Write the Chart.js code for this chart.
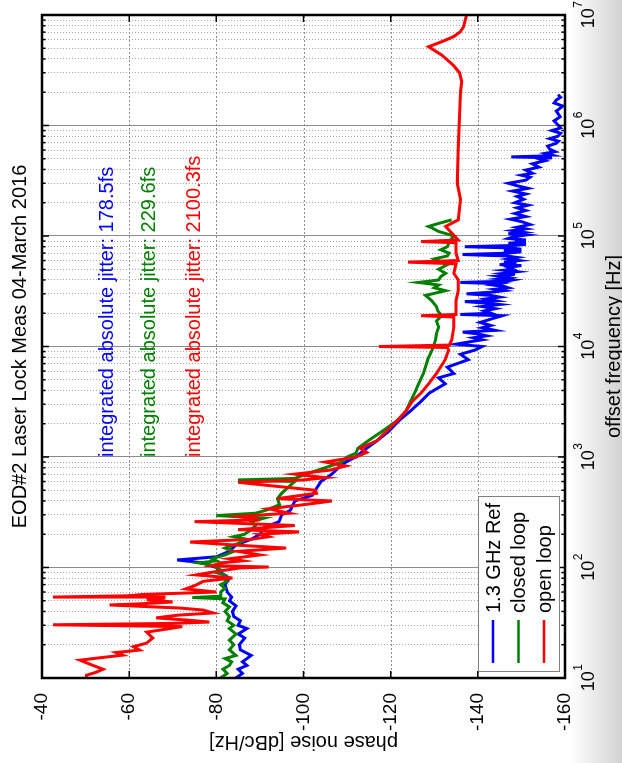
<!DOCTYPE html>
<html>
<head>
<meta charset="utf-8">
<style>
  html, body { margin: 0; padding: 0; width: 622px; height: 763px; overflow: hidden;
    background: linear-gradient(to right, #ffffff 0px, #ffffff 570px, #ececec 592px, #d2d2d2 622px); }
  #wrap { position: absolute; left: 0; top: 0; width: 763px; height: 640px;
    transform-origin: 0 0; transform: translate(0px, 763px) rotate(-90deg); }
</style>
</head>
<body>
<div id="wrap"><canvas id="noiseChart" width="763" height="640"></canvas></div>

<script src="https://cdn.jsdelivr.net/npm/chart.js"></script>
<script>
    const FONT = "'Liberation Sans', Arial, sans-serif";

    const chartTitle = "EOD#2 Laser Lock Meas 04-March 2016";
    const seriesNames = ["1.3 GHz Ref", "closed loop", "open loop"];
    const seriesColors = ["#0000ff", "#008000", "#ff0000"];
    const jitterLabels = [
        "integrated absolute jitter: 178.5fs",
        "integrated absolute jitter: 229.6fs",
        "integrated absolute jitter: 2100.3fs"
    ];
    const jitterLevels = [-55, -64.7, -75];
    const jitterStartFreq = 1000;
    const decadeExps = [1, 2, 3, 4, 5, 6, 7];
    const yTickValues = [-160, -140, -120, -100, -80, -60, -40];

    // 1.3 GHz reference
    const refFreq = [
        10, 11, 12, 13, 14, 16, 18, 20, 23, 25,
        28, 30, 33, 36, 40, 45, 50, 54, 60, 70,
        80, 90, 100, 110, 117, 125, 140, 160, 180, 200,
        230, 260, 300, 330, 400, 450, 520, 600, 700, 800,
        900, 1000, 1200, 1400, 1700, 2150, 2600, 3200, 3800, 4600,
        5200, 5700, 6500, 7600, 8500, 9300, 10000, 10500, 11000, 11500,
        12000, 12500, 13000, 13500, 14000, 14800, 15500, 16500, 17500, 18200,
        19000, 19500, 20000, 21000, 22000, 23000, 24000, 24500, 25500, 26000,
        27000, 28000, 29000, 30000, 31000, 32000, 33000, 34000, 35000, 36000,
        37000, 38000, 39000, 40000, 41000, 42000, 43500, 45000, 46000, 47500,
        49000, 50000, 52000, 54000, 55000, 57000, 58000, 60000, 62000, 64000,
        66000, 68000, 70000, 72000, 74000, 76000, 78000, 80000, 82000, 84000,
        86000, 88000, 90000, 92000, 95000, 98000, 102000, 105000, 108000, 112000,
        116000, 120000, 127000, 135000, 142000, 150000, 160000, 170000, 180000, 190000,
        200000, 215000, 228000, 240000, 255000, 270000, 285000, 300000, 320000, 340000,
        355000, 370000, 395000, 420000, 450000, 480000, 500000, 510000, 520000, 530000,
        540000, 560000, 580000, 610000, 650000, 690000, 720000, 760000, 800000, 850000,
        900000, 950000, 1e6, 1.1e6, 1.2e6, 1.35e6, 1.5e6, 1.6e6, 1.7e6, 1.8e6,
        1.9e6
    ];
    const refNoise = [
        -84.5, -86, -85, -87, -86, -88, -85.5, -85.3, -86.5, -85,
        -87, -85, -85.5, -84, -83.7, -84.5, -83, -83.5, -82.5, -82,
        -83, -81, -80, -77, -71, -80, -83, -84.5, -88, -90,
        -91, -94.4, -95, -97, -98, -102, -103, -104, -106.5, -108,
        -109.7, -112, -114.5, -116.8, -119.5, -122, -124.5, -127, -128.9, -132.5,
        -131, -134.5, -133, -137.8, -136, -139.4, -141, -135, -138, -141,
        -139, -142, -140, -136.5, -144, -141, -143, -140.5, -142.6, -144,
        -145.6, -136, -143, -141.5, -144, -141, -145, -143, -137, -144,
        -142, -145, -143, -137.4, -143, -146, -144, -147, -146, -143.5,
        -145, -136, -146.5, -148, -145, -147, -144.5, -148.5, -146, -149,
        -146, -148, -147, -150, -145, -148.5, -146, -149.5, -147, -149,
        -146.5, -136.5, -147, -150, -146, -150, -147.5, -137, -148, -151,
        -147, -151, -148.5, -151, -147, -148, -151, -147, -150.5, -148,
        -151, -149, -152, -150, -147.5, -151, -148.5, -151, -149, -151.5,
        -148.5, -150.5, -149, -151, -148, -151.5, -149, -147, -151, -152,
        -150, -152.5, -151, -154, -152.5, -155.4, -154, -157, -147.7, -155,
        -157, -155.5, -157.7, -156.5, -156, -158, -158.5, -156.5, -158.4, -159,
        -157, -159, -158.5, -157.5, -158.9, -158, -159.5, -157.5, -158, -159,
        -158.4
    ];

    // closed loop
    const closedFreq = [
        10, 11, 12, 13, 14, 15, 16, 18, 20, 22,
        25, 28, 30, 33, 36, 40, 44, 48, 52, 53.5,
        55, 60, 65, 70, 75, 80, 85, 90, 95, 100,
        105, 110, 115, 120, 130, 140, 150, 165, 180, 190,
        200, 220, 240, 260, 280, 295, 310, 330, 370, 420,
        470, 540, 600, 620, 640, 700, 800, 900, 1000, 1080,
        1200, 1400, 1700, 2150, 2600, 3200, 3800, 4600, 5700, 7600,
        9300, 11500, 13000, 15000, 17000, 19000, 21000, 23000, 26000, 29000,
        32000, 34000, 36000, 38000, 40000, 43000, 46000, 50000, 55000, 62000,
        66000, 70000, 75000, 80000, 90000, 100000, 110000, 118000, 122000, 130000,
        140000
    ];
    const closedNoise = [
        -81, -82.5, -81.5, -83, -83.5, -82, -84.5, -83, -84, -83,
        -84.5, -83, -84, -82.5, -83, -82, -83, -81.5, -82, -74.5,
        -81, -81, -82, -81, -82.5, -81.5, -82, -80, -81, -80,
        -79, -76, -80, -79, -82, -84, -82, -85, -87, -84,
        -86.5, -88, -89, -88, -91, -80, -89, -91.4, -94.5, -94,
        -95, -96.7, -98, -85, -98, -100.6, -105, -108.8, -110, -112,
        -112.5, -114.8, -118, -121.6, -123.5, -124.6, -125.5, -126.4, -127.5, -128.5,
        -129.5, -130.3, -130.5, -131, -130.5, -131.7, -130.8, -130.5, -129.4, -128,
        -132.6, -130, -131, -126.4, -131, -131.5, -132.6, -131, -133, -130,
        -133, -133.4, -131.5, -133, -133.5, -134.5, -131, -129.5, -128.7, -131,
        -134
    ];

    // open loop
    const openFreq = [
        10, 10.6, 11.3, 12, 13, 14.5, 15.2, 16.1, 17, 17.9,
        19.2, 20.7, 23, 26, 27.5, 29.2, 30.3, 31.2, 32.1, 33.5,
        35, 37, 38.8, 41.2, 43, 45.8, 47, 48.8, 51, 53,
        54, 55.5, 57, 60, 64, 69.5, 75, 80.4, 85.7, 92,
        99, 101, 104, 110, 115, 120, 130, 140, 150, 160,
        170, 180, 190, 200, 210, 220, 240, 260, 270, 290,
        310, 340, 370, 400, 420, 470, 500, 540, 590, 620,
        650, 700, 760, 830, 900, 1000, 1100, 1200, 1400, 1700,
        2150, 2600, 3200, 3800, 4600, 5700, 7600, 9300, 9800, 10000,
        10300, 11500, 15000, 18500, 19000, 19500, 26000, 32000, 40000, 46000,
        56000, 58000, 60000, 70000, 87000, 89000, 92000, 122000, 140000, 215000,
        300000, 630000, 1.2e6, 2.0e6, 2.5e6, 3.0e6, 3.5e6, 4.35e6, 5.16e6, 5.73e6,
        6.36e6, 7.0e6, 7.75e6, 1e7
    ];
    const openNoise = [
        -50.2, -50.2, -52.5, -54, -51.7, -48.7, -53, -58.5, -57, -62.4,
        -61, -64, -65.4, -64, -68, -72.2, -42.5, -70, -78.4, -73,
        -66.2, -71, -79.2, -77, -71.5, -55.5, -63, -70, -64, -68,
        -42.5, -60, -63, -80, -73, -75.4, -77, -83.7, -75.4, -80,
        -85.3, -92, -79, -81, -86, -83, -90, -85, -96, -84,
        -74, -88, -92, -90, -99, -85, -98, -75, -90, -85,
        -96.7, -92, -100, -106.5, -94, -103, -102.8, -94.4, -85, -100,
        -105, -98, -106, -109.7, -105, -112, -114.5, -113, -116.8, -119,
        -121.6, -123.5, -125, -127, -128.7, -130.5, -132.5, -133.3, -133, -117.3,
        -133.5, -134, -134.5, -134.5, -127, -135, -135, -135.5, -135.5, -134.5,
        -135, -124, -135.5, -135, -135, -127, -135.5, -132.6, -135.5, -136,
        -135.3, -135.5, -135.8, -136, -136.3, -135.8, -134.4, -131.7, -128.7, -131.7,
        -134.4, -135.9, -136.7, -137.4
    ];

    // frequency grid: 1..9 x each decade
    const xGridTicks = [];
    decadeExps.forEach(e => {
        if (e === 7) { xGridTicks.push(1e7); return; }
        for (let m = 1; m <= 9; m++) xGridTicks.push(m * Math.pow(10, e));
    });

    function isDecade(v) {
        const l = Math.log10(v);
        return Math.abs(l - Math.round(l)) < 1e-6;
    }

    function toPoints(freqs, vals) {
        return freqs.map((f, i) => ({ x: f, y: vals[i] }));
    }

    const matlabFrame = {
        id: "matlabFrame",
        beforeDatasetsDraw(chart) {
            // dotted level grid (phase noise)
            const ctx = chart.ctx;
            const area = chart.chartArea;
            const ys = chart.scales.y;
            ctx.save();
            ctx.strokeStyle = "#8f8f8f";
            ctx.lineWidth = 1;
            ctx.setLineDash([2, 2]);
            ctx.beginPath();
            yTickValues.forEach(v => {
                const y = Math.round(ys.getPixelForValue(v)) + 0.5;
                ctx.moveTo(area.left, y);
                ctx.lineTo(area.right, y);
            });
            ctx.stroke();
            ctx.restore();
        },
        afterDraw(chart) {
            const ctx = chart.ctx;
            const area = chart.chartArea;
            const xs = chart.scales.x;
            const ys = chart.scales.y;
            ctx.save();

            // tick marks inside the box
            ctx.strokeStyle = "#000";
            ctx.lineWidth = 1.5;
            ctx.beginPath();
            xGridTicks.forEach(v => {
                const x = xs.getPixelForValue(v);
                const len = isDecade(v) ? 7 : 3.5;
                ctx.moveTo(x, area.bottom); ctx.lineTo(x, area.bottom - len);
                ctx.moveTo(x, area.top); ctx.lineTo(x, area.top + len);
            });
            yTickValues.forEach(v => {
                const y = ys.getPixelForValue(v);
                ctx.moveTo(area.left, y); ctx.lineTo(area.left + 7, y);
                ctx.moveTo(area.right, y); ctx.lineTo(area.right - 7, y);
            });
            ctx.stroke();

            // box
            ctx.lineWidth = 2.5;
            ctx.strokeRect(area.left, area.top, area.right - area.left, area.bottom - area.top);

            // decade labels 10^n
            ctx.fillStyle = "#000";
            ctx.textBaseline = "alphabetic";
            ctx.textAlign = "left";
            decadeExps.forEach(e => {
                const x = xs.getPixelForValue(Math.pow(10, e));
                ctx.font = "18px " + FONT;
                const w1 = ctx.measureText("10").width;
                ctx.font = "12px " + FONT;
                const w2 = ctx.measureText(String(e)).width;
                const x0 = x - (w1 + w2) / 2;
                ctx.font = "18px " + FONT;
                ctx.fillText("10", x0, area.bottom + 29);
                ctx.font = "12px " + FONT;
                ctx.fillText(String(e), x0 + w1 + 0.5, area.bottom + 17);
            });

            // jitter annotations
            ctx.font = "20px " + FONT;
            ctx.textBaseline = "middle";
            jitterLabels.forEach((t, i) => {
                ctx.fillStyle = seriesColors[i];
                ctx.fillText(t, xs.getPixelForValue(jitterStartFreq), ys.getPixelForValue(jitterLevels[i]));
            });

            // legend box, lower left
            const bw = 175, bh = 81;
            const bx = area.left + 6, by = area.bottom - 6 - bh;
            ctx.fillStyle = "#fff";
            ctx.fillRect(bx, by, bw, bh);
            ctx.strokeStyle = "#808080";
            ctx.lineWidth = 1;
            ctx.strokeRect(bx + 0.5, by + 0.5, bw, bh);
            seriesNames.forEach((name, i) => {
                const ry = by + 15 + i * 25.5;
                ctx.strokeStyle = seriesColors[i];
                ctx.lineWidth = 2.5;
                ctx.beginPath();
                ctx.moveTo(bx + 9, ry); ctx.lineTo(bx + 52, ry);
                ctx.stroke();
                ctx.fillStyle = "#000";
                ctx.font = "20px " + FONT;
                ctx.textBaseline = "middle";
                ctx.fillText(name, bx + 59, ry + 1);
            });
            ctx.restore();
        }
    };

    const canvas = document.getElementById("noiseChart");
    new Chart(canvas.getContext("2d"), {
        type: "line",
        data: {
            datasets: [
                { label: seriesNames[0], data: toPoints(refFreq, refNoise), borderColor: seriesColors[0], order: 3 },
                { label: seriesNames[1], data: toPoints(closedFreq, closedNoise), borderColor: seriesColors[1], order: 2 },
                { label: seriesNames[2], data: toPoints(openFreq, openNoise), borderColor: seriesColors[2], order: 1 }
            ]
        },
        options: {
            responsive: false,
            animation: false,
            devicePixelRatio: 1,
            elements: {
                point: { radius: 0 },
                line: { borderWidth: 3, tension: 0, fill: false }
            },
            layout: { padding: { left: 0, right: 15, top: 0, bottom: 0 } },
            plugins: {
                legend: { display: false },
                tooltip: { enabled: false },
                title: {
                    display: true,
                    text: chartTitle,
                    color: "#000",
                    fullSize: false,
                    font: { family: FONT, size: 20, weight: "normal" },
                    padding: { top: 8, bottom: 10 }
                }
            },
            scales: {
                x: {
                    type: "logarithmic",
                    min: 10,
                    max: 1e7,
                    afterBuildTicks: s => { s.ticks = xGridTicks.map(v => ({ value: v })); },
                    afterFit: s => { s.height = 75; },
                    ticks: { display: false },
                    grid: {
                        drawTicks: false,
                        lineWidth: 1,
                        color: c => (c.tick && isDecade(c.tick.value)) ? "#8c8c8c" : "#a6a6a6"
                    },
                    border: {
                        display: false,
                        dash: c => (c.tick && isDecade(c.tick.value)) ? [] : [1, 2]
                    },
                    title: {
                        display: true,
                        text: "offset frequency [Hz]",
                        color: "#000",
                        font: { family: FONT, size: 20 },
                        padding: { top: 0, bottom: 14 }
                    }
                },
                y: {
                    min: -160,
                    max: -40,
                    afterBuildTicks: s => { s.ticks = yTickValues.map(v => ({ value: v })); },
                    afterFit: s => { s.width = 85; },
                    ticks: { color: "#000", font: { family: FONT, size: 19 }, padding: 7 },
                    grid: { display: false },
                    border: { display: false },
                    title: {
                        display: true,
                        text: "phase noise [dBc/Hz]",
                        color: "#000",
                        font: { family: FONT, size: 20 },
                        padding: { top: 9, bottom: 0 }
                    }
                }
            }
        },
        plugins: [matlabFrame]
    });
</script>
</body>
</html>
